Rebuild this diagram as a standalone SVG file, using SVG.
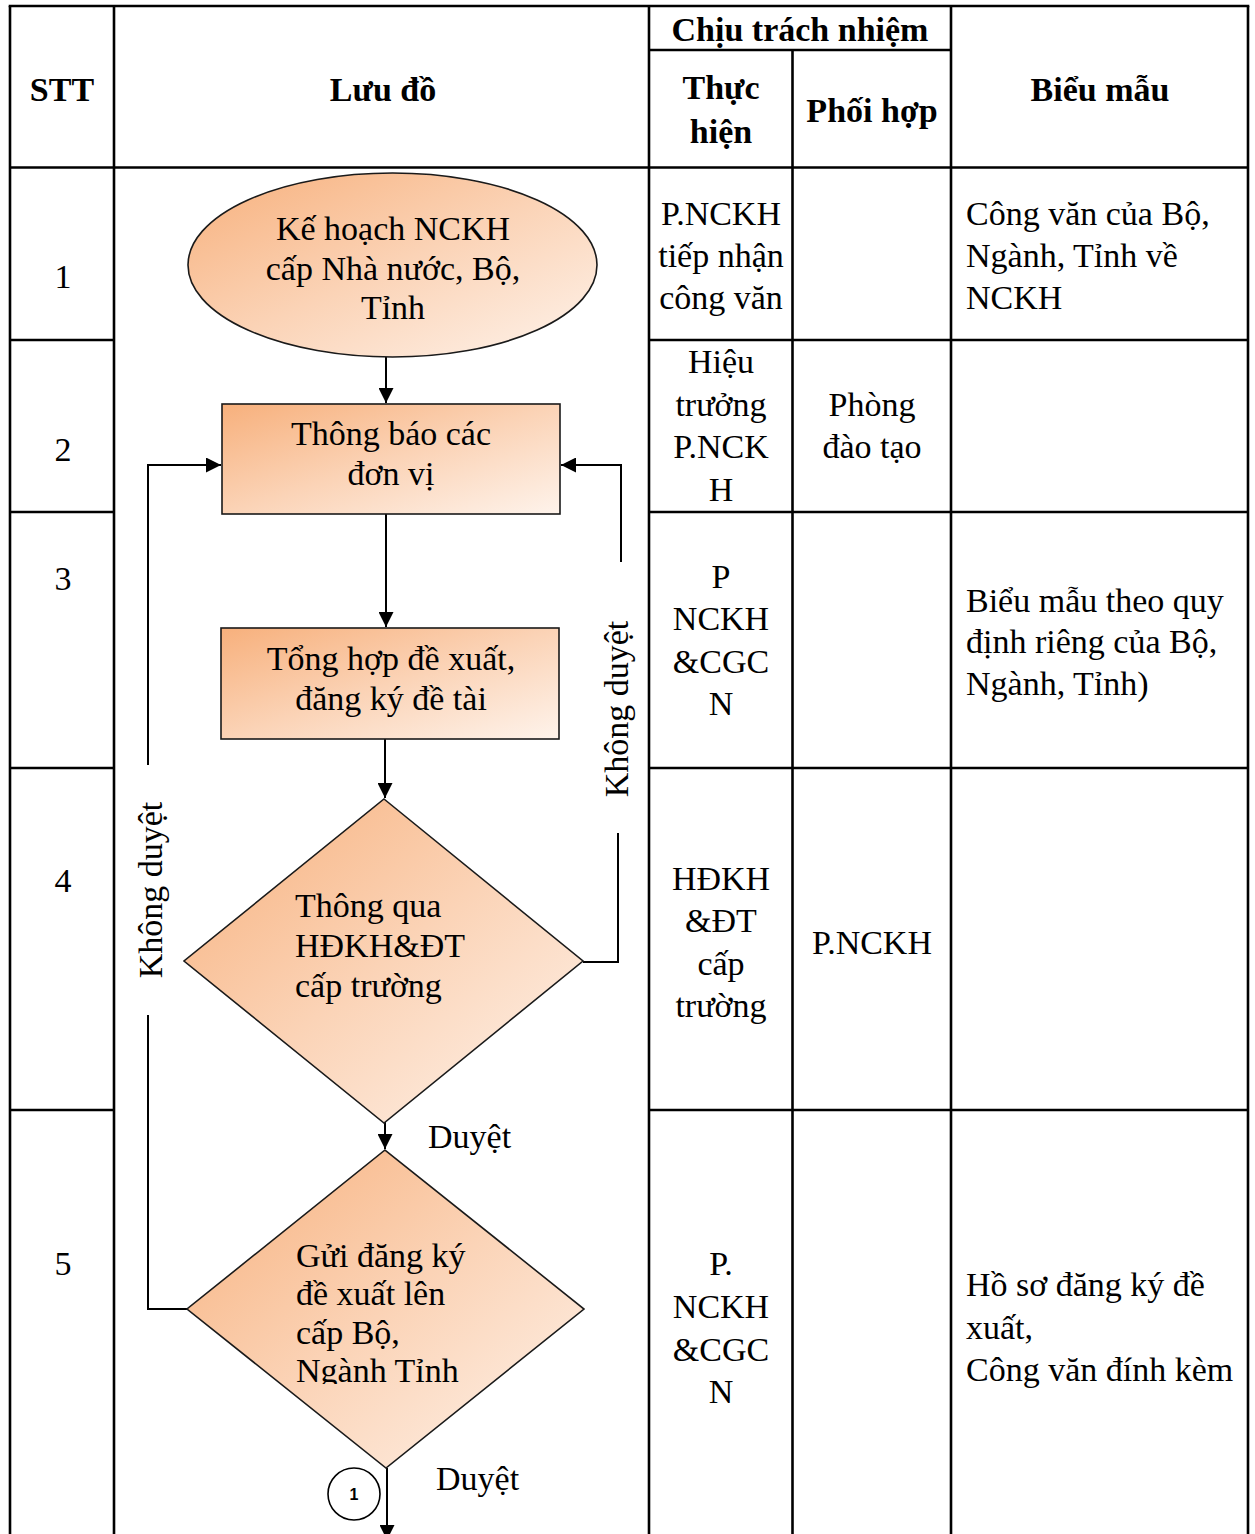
<svg xmlns="http://www.w3.org/2000/svg" width="1255" height="1534" viewBox="0 0 1255 1534">
<style>
.t{font-family:"Liberation Serif","Times New Roman",serif;font-size:34px;fill:#000}
.b{font-weight:bold}
.c{text-anchor:middle}
.grid{stroke:#000;stroke-width:2.6;fill:none}
.shape{stroke:#1a1a1a;stroke-width:1.6;fill:url(#og)}
.con{stroke:#000;stroke-width:2;fill:none}
</style>
<defs>
<linearGradient id="og" x1="0" y1="0" x2="1" y2="1">
<stop offset="0" stop-color="#F7B07C"/>
<stop offset="0.5" stop-color="#FBD3B6"/>
<stop offset="1" stop-color="#FEF3EB"/>
</linearGradient>
<marker id="ah" viewBox="0 0 10 10" refX="10" refY="5" markerWidth="7.5" markerHeight="7.5" markerUnits="strokeWidth" orient="auto">
<path d="M0,0 L10,5 L0,10 z" fill="#000"/>
</marker>
<clipPath id="clipD2"><rect x="180" y="1150" width="410" height="234"/></clipPath>
</defs>
<rect width="1255" height="1534" fill="#fff"/>

<g id="table">
<line class="grid" x1="8.7" y1="6" x2="1249.3" y2="6"/>
<line class="grid" x1="10" y1="6" x2="10" y2="1534"/>
<line class="grid" x1="114" y1="6" x2="114" y2="1534"/>
<line class="grid" x1="649" y1="6" x2="649" y2="1534"/>
<line class="grid" x1="792.5" y1="50" x2="792.5" y2="1534"/>
<line class="grid" x1="951" y1="6" x2="951" y2="1534"/>
<line class="grid" x1="1248" y1="6" x2="1248" y2="1534"/>
<line class="grid" x1="649" y1="50" x2="951" y2="50"/>
<line class="grid" x1="10" y1="167.5" x2="1248" y2="167.5"/>
<line class="grid" x1="10" y1="340" x2="114" y2="340"/>
<line class="grid" x1="649" y1="340" x2="1248" y2="340"/>
<line class="grid" x1="10" y1="512" x2="114" y2="512"/>
<line class="grid" x1="649" y1="512" x2="1248" y2="512"/>
<line class="grid" x1="10" y1="768" x2="114" y2="768"/>
<line class="grid" x1="649" y1="768" x2="1248" y2="768"/>
<line class="grid" x1="10" y1="1110" x2="114" y2="1110"/>
<line class="grid" x1="649" y1="1110" x2="1248" y2="1110"/>
</g>

<g id="header">
<text class="t b c" x="62" y="101">STT</text>
<text class="t b c" x="383" y="101">Lưu đồ</text>
<text class="t b c" x="800" y="41">Chịu trách nhiệm</text>
<text class="t b c" x="721" y="99">Thực</text>
<text class="t b c" x="721" y="143">hiện</text>
<text class="t b c" x="872" y="122">Phối hợp</text>
<text class="t b c" x="1100" y="101">Biểu mẫu</text>
</g>

<g id="stt">
<text class="t c" x="63" y="288">1</text>
<text class="t c" x="63" y="461">2</text>
<text class="t c" x="63" y="590">3</text>
<text class="t c" x="63" y="892">4</text>
<text class="t c" x="63" y="1275">5</text>
</g>

<g id="thuc-hien">
<text class="t c" x="721" y="225">P.NCKH</text>
<text class="t c" x="721" y="267">tiếp nhận</text>
<text class="t c" x="721" y="309">công văn</text>
<text class="t c" x="721" y="373">Hiệu</text>
<text class="t c" x="721" y="416">trưởng</text>
<text class="t c" x="721" y="458">P.NCK</text>
<text class="t c" x="721" y="501">H</text>
<text class="t c" x="721" y="588">P</text>
<text class="t c" x="721" y="630">NCKH</text>
<text class="t c" x="721" y="673">&amp;CGC</text>
<text class="t c" x="721" y="715">N</text>
<text class="t c" x="721" y="890">HĐKH</text>
<text class="t c" x="721" y="932">&amp;ĐT</text>
<text class="t c" x="721" y="975">cấp</text>
<text class="t c" x="721" y="1017">trường</text>
<text class="t c" x="721" y="1275">P.</text>
<text class="t c" x="721" y="1318">NCKH</text>
<text class="t c" x="721" y="1361">&amp;CGC</text>
<text class="t c" x="721" y="1403">N</text>
</g>

<g id="phoi-hop">
<text class="t c" x="872" y="416">Phòng</text>
<text class="t c" x="872" y="458">đào tạo</text>
<text class="t c" x="872" y="954">P.NCKH</text>
</g>

<g id="bieu-mau">
<text class="t" x="966" y="225">Công văn của Bộ,</text>
<text class="t" x="966" y="267">Ngành, Tỉnh về</text>
<text class="t" x="966" y="309">NCKH</text>
<text class="t" x="966" y="612">Biểu mẫu theo quy</text>
<text class="t" x="966" y="653">định riêng của Bộ,</text>
<text class="t" x="966" y="695">Ngành, Tỉnh)</text>
<text class="t" x="966" y="1296">Hồ sơ đăng ký đề</text>
<text class="t" x="966" y="1339">xuất,</text>
<text class="t" x="966" y="1381">Công văn đính kèm</text>
</g>

<g id="connectors">
<line class="con" x1="386" y1="357" x2="386" y2="403" marker-end="url(#ah)"/>
<line class="con" x1="386" y1="514" x2="386" y2="627" marker-end="url(#ah)"/>
<line class="con" x1="385" y1="739" x2="385" y2="798" marker-end="url(#ah)"/>
<line class="con" x1="385" y1="1122" x2="385" y2="1149" marker-end="url(#ah)"/>
<line class="con" x1="387" y1="1468" x2="387" y2="1540" marker-end="url(#ah)"/>
<polyline class="con" points="187,1309 148,1309 148,1015"/>
<polyline class="con" points="148,765 148,465 221,465" marker-end="url(#ah)"/>
<polyline class="con" points="583,962 618,962 618,833"/>
<polyline class="con" points="621,562 621,465 561,465" marker-end="url(#ah)"/>
<text class="t" transform="translate(162,890) rotate(-90)" text-anchor="middle">Không duyệt</text>
<text class="t" transform="translate(628,709) rotate(-90)" text-anchor="middle">Không duyệt</text>
<text class="t" x="428" y="1148">Duyệt</text>
<text class="t" x="436" y="1490">Duyệt</text>
</g>

<g id="n1">
<ellipse class="shape" cx="392.5" cy="265" rx="204.5" ry="92"/>
<text class="t c" x="393" y="240">Kế hoạch NCKH</text>
<text class="t c" x="393" y="280">cấp Nhà nước, Bộ,</text>
<text class="t c" x="393" y="319">Tỉnh</text>
</g>

<g id="n2">
<rect class="shape" x="222" y="404" width="338" height="110"/>
<text class="t c" x="391" y="445">Thông báo các</text>
<text class="t c" x="391" y="485">đơn vị</text>
</g>

<g id="n3">
<rect class="shape" x="221" y="628" width="338" height="111"/>
<text class="t c" x="391" y="670">Tổng hợp đề xuất,</text>
<text class="t c" x="391" y="710">đăng ký đề tài</text>
</g>

<g id="n4">
<polygon class="shape" points="384,799 583,961 384,1123 184,961"/>
<text class="t" x="295" y="917">Thông qua</text>
<text class="t" x="295" y="957">HĐKH&amp;ĐT</text>
<text class="t" x="295" y="997">cấp trường</text>
</g>

<g id="n5">
<polygon class="shape" points="385,1150 584,1309 386,1468 187,1309"/>
<g clip-path="url(#clipD2)">
<text class="t" x="296" y="1267">Gửi đăng ký</text>
<text class="t" x="296" y="1305">đề xuất lên</text>
<text class="t" x="296" y="1344">cấp Bộ,</text>
<text class="t" x="296" y="1382">Ngành Tỉnh</text>
</g>
</g>

<g id="n6">
<circle cx="354" cy="1494" r="26" fill="#fff" stroke="#000" stroke-width="1.6"/>
<text x="354" y="1500" text-anchor="middle" style="font-family:'Liberation Sans',Arial,sans-serif;font-size:16px;font-weight:bold">1</text>
</g>
</svg>
